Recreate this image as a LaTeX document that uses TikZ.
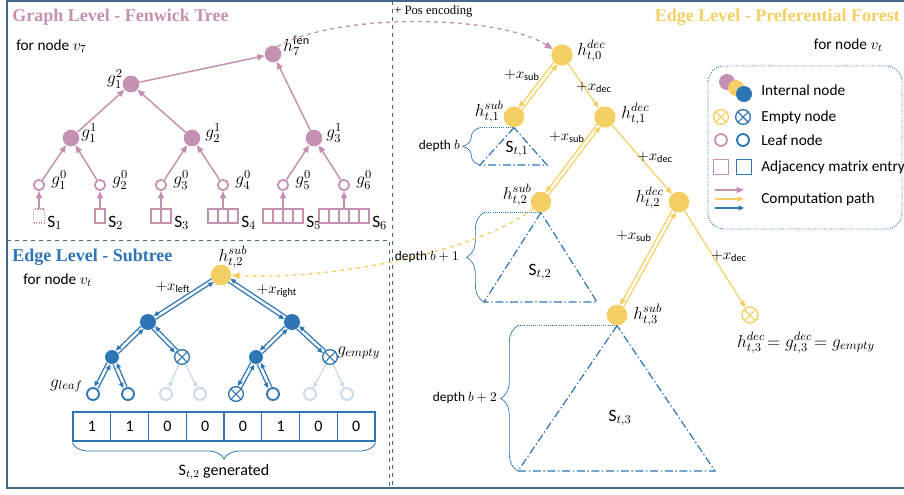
\RequirePackage{fix-cm}
\documentclass[tikz,border=0pt]{standalone}
\usepackage{fontspec}
\setmainfont{Carlito}
\newfontfamily\titlefont{Liberation Serif}
\usetikzlibrary{arrows.meta,calc,decorations.pathreplacing,positioning}

\definecolor{fenpink}{RGB}{196,145,178}
\definecolor{foryellow}{RGB}{244,208,100}
\definecolor{subblue}{RGB}{46,117,182}
\definecolor{fadeblue}{RGB}{200,216,238}
\definecolor{framegray}{RGB}{68,104,140}

% one arrow of a two-way pair, shifted beside the line between two nodes
\newcommand{\oneway}[5]{%
  \draw[#1,shorten <=#4,shorten >=#5] let \p1=($(#3)-(#2)$), \n1={atan2(\y1,\x1)} in
    ($(#2)+(\n1-90:1.5pt)$) -- ($(#3)+(\n1-90:1.5pt)$);}
\newcommand{\twoway}[5]{\oneway{#1}{#2}{#3}{#4}{#5}\oneway{#1}{#3}{#2}{#5}{#4}}

\tikzset{
  pint/.style={circle,fill=fenpink,minimum size=12.5pt,inner sep=0pt},
  pleaf/.style={circle,draw=fenpink,line width=1.3pt,minimum size=7.8pt,inner sep=0pt},
  pbox/.style={draw=fenpink,line width=0.9pt,minimum height=10.5pt,inner sep=0pt,outer sep=0pt},
  parr/.style={fenpink,line width=1.1pt,-{Triangle[length=5.5pt,width=4.5pt]}},
  yint/.style={circle,fill=foryellow,minimum size=15.5pt,inner sep=0pt},
  yarr/.style={foryellow,line width=0.9pt,-{Triangle[length=5pt,width=4pt]}},
  bint/.style={circle,fill=subblue,minimum size=#1,inner sep=0pt},
  bint/.default=11pt,
  bleaf/.style={circle,draw=#1,line width=1.4pt,minimum size=9pt,inner sep=0pt},
  bleaf/.default=subblue,
  xnode/.style={circle,draw=#1,line width=1pt,minimum size=11pt,inner sep=0pt,
    path picture={\draw[#1,line width=0.8pt]
      (path picture bounding box.north west) -- (path picture bounding box.south east)
      (path picture bounding box.north east) -- (path picture bounding box.south west);}},
  barr/.style={subblue,line width=0.9pt,-{Triangle[length=4pt,width=3.5pt]}},
  farr/.style={fadeblue,line width=0.9pt,-{Triangle[length=4pt,width=3.5pt]}},
  lab/.style={inner sep=0.75pt,font=\fontsize{13}{15}\selectfont},
  xlab/.style={inner sep=0.75pt,font=\fontsize{11}{13}\selectfont},
  txt/.style={inner sep=0.75pt,font=\fontsize{11.5}{14}\selectfont},
  dtxt/.style={inner sep=0.75pt,font=\fontsize{10}{12}\selectfont},
  ttl/.style={inner sep=0.75pt,font=\titlefont\bfseries\fontsize{13.5}{16}\selectfont},
  subtri/.style={subblue,line width=0.9pt,dash pattern=on 6pt off 2pt on 1pt off 2pt},
  depthbrace/.style={subblue,line width=0.5pt,decorate,decoration={brace,amplitude=13pt}},
  cell/.style={draw=subblue,line width=1pt,minimum width=28.3pt,minimum height=21.75pt,inner sep=0pt,font=\fontsize{12}{14}\selectfont}
}

\begin{document}
\begin{tikzpicture}[x=0.75pt,y=-0.75pt]
  \useasboundingbox (0,0) rectangle (904,494);

  % frame and panels
  \draw[framegray,line width=1.3pt] (904,1.2) -- (7,1.2) -- (7,488) -- (904,488);
  \draw[framegray,dashed,line width=0.6pt] (392,1) -- (392,488);
  \draw[framegray,dashed,line width=0.6pt] (7,240) -- (389,240) -- (389,488);

  % Text Node
  \node[ttl,anchor=west,text=fenpink] (ttlfen) at (11,17) {Graph Level - Fenwick Tree};
  \node[ttl,anchor=east,text=foryellow] (ttlfor) at (901,17) {Edge Level - Preferential Forest};
  \node[ttl,anchor=west,text=subblue] (ttlsub) at (11,257) {Edge Level - Subtree};
  \node[txt,anchor=west] (fn1) at (15,46) {for node $v_7$};
  \node[txt,anchor=east] (fn2) at (884,45) {for node $v_t$};
  \node[txt,anchor=west] (fn3) at (22,280) {for node $v_t$};
  \node[inner sep=0.75pt,anchor=west,font=\titlefont\fontsize{9.5}{11}\selectfont] (posenc) at (393,11) {+ Pos encoding};

  %% Fenwick tree
  \node[pint] (h7) at (273,54) {};
  \node[pint] (g12) at (131,84) {};
  \node[pint] (g11) at (71,138) {};
  \node[pint] (g21) at (192,138) {};
  \node[pint] (g31) at (314,138) {};
  \node[lab,anchor=west] (th7) at (282,46) {$h_7^{\mathrm{fen}}$};
  \node[lab,anchor=east] (tg12) at (124,79) {$g_1^2$};
  \node[lab,anchor=west] (tg11) at (80,133) {$g_1^1$};
  \node[lab,anchor=west] (tg21) at (204,133) {$g_2^1$};
  \node[lab,anchor=west] (tg31) at (325,133) {$g_3^1$};

  % adjacency boxes
  \node[pbox,densely dotted,minimum width=8pt] (b1) at (39,216) {};
  \foreach \i/\x/\c in {2/100/1,3/161/2,4/223/3,5/283/4,6/344/5}
    \node[pbox,minimum width={\c*7.5pt}] (b\i) at (\x,216) {};
  \foreach \i/\c in {3/2,4/3,5/4,6/5}
    \foreach \k in {2,...,\c}
      \draw[fenpink,line width=0.9pt] ([xshift={(\k-1)*7.5pt}]b\i.north west) -- ([xshift={(\k-1)*7.5pt}]b\i.south west);
  \foreach \i/\x/\c in {1/39/1,2/100/1,3/161/2,4/223/3,5/283/4,6/344/5}
    \node[lab,anchor=west] (ts\i) at ({\x+\c*5+2},223) {$\mathrm{S}_{\i}$};

  % leaves
  \foreach \i/\x in {1/39,2/100,3/161,4/223,5/283,6/344} {
    \node[pleaf] (g\i0) at (\x,185) {};
    \node[lab,anchor=west] (tg\i0) at ({\x+11},180) {$g_{\i}^{0}$};
    \draw[parr] (b\i) -- (g\i0);
  }
  \foreach \a/\b in {g10/g11,g20/g11,g30/g21,g40/g21,g50/g31,g60/g31,g11/g12,g21/g12,g12/h7,g31/h7}
    \draw[parr] (\a) -- (\b);

  %% Preferential forest
  \node[yint,minimum size=16pt] (hd0) at (562,55) {};
  \node[yint] (hs1) at (514,117) {};
  \node[yint,minimum size=16pt] (hd1) at (605,117) {};
  \node[yint] (hs2) at (541,202) {};
  \node[yint] (hd2) at (679,202) {};
  \node[yint] (hs3) at (617,315) {};
  \node[xnode=foryellow,minimum size=12pt] (he3) at (750,315) {};

  \node[lab,anchor=west] (thd0) at (576,51) {$h_{t,0}^{dec}$};
  \node[lab,anchor=east] (ths1) at (505,112) {$h_{t,1}^{sub}$};
  \node[lab,anchor=west] (thd1) at (620,114) {$h_{t,1}^{dec}$};
  \node[lab,anchor=east] (ths2) at (533,195) {$h_{t,2}^{sub}$};
  \node[lab,anchor=east] (thd2) at (665,198) {$h_{t,2}^{dec}$};
  \node[lab,anchor=west] (ths3) at (632,315) {$h_{t,3}^{sub}$};
  \node[lab] (the3) at (806,343) {$h_{t,3}^{dec}\!=g_{t,3}^{dec}\!=g_{empty}$};

  \twoway{yarr}{hd0}{hs1}{7.5pt}{7.5pt}
  \twoway{yarr}{hd1}{hs2}{7.5pt}{7.5pt}
  \twoway{yarr}{hd2}{hs3}{7.5pt}{7.5pt}
  \draw[yarr] (hd0) -- (hd1);
  \draw[yarr] (hd1) -- (hd2);
  \draw[yarr] (hd2) -- (he3);

  \node[xlab] (xs1) at (522,75) {$+x_{\mathrm{sub}}$};
  \node[xlab] (xd1) at (594,87) {$+x_{\mathrm{dec}}$};
  \node[xlab] (xs2) at (567,137) {$+x_{\mathrm{sub}}$};
  \node[xlab] (xd2) at (655,157) {$+x_{\mathrm{dec}}$};
  \node[xlab] (xs3) at (634,236) {$+x_{\mathrm{sub}}$};
  \node[xlab] (xd3) at (729,256) {$+x_{\mathrm{dec}}$};

  % subtrees hanging below the sub nodes
  \coordinate (bt1) at ($(hs1.south)+(-34,0)$);
  \coordinate (bb1) at (480,165);
  \coordinate (bt2) at ($(hs2.south)+(-57,0)$);
  \coordinate (bb2) at (484,302);
  \coordinate (bt3) at ($(hs3.south)+(-99,0)$);
  \coordinate (bb3) at (518,471);
  \draw[subtri] (hs1.south) -- (bb1) -- (547,165) -- cycle;
  \draw[subtri] (hs2.south) -- (bb2) -- (597,302) -- cycle;
  \draw[subtri] (hs3.south) -- (bb3) -- (715,471) -- cycle;
  \draw[subblue,densely dotted,line width=0.6pt] (bt1) -- (hs1.south);
  \draw[subblue,densely dotted,line width=0.6pt] (bt2) -- (hs2.south);
  \draw[subblue,densely dotted,line width=0.6pt] (bt3) -- (hs3.south);
  \draw[depthbrace] (bb1) -- (bt1);
  \draw[depthbrace] (bb2) -- (bt2);
  \draw[depthbrace] (bb3) -- (bt3);
  \node[lab] (st1) at (517,149) {$\mathrm{S}_{t,1}$};
  \node[lab] (st2) at (540,272) {$\mathrm{S}_{t,2}$};
  \node[lab] (st3) at (620,418) {$\mathrm{S}_{t,3}$};

  %% Subtree
  \node[yint] (sr) at (221,275) {};
  \node[bint=12pt] (l1) at (148,322) {};
  \node[bint=12pt] (r1) at (292,322) {};
  \node[bint=10.5pt] (ll) at (112,357) {};
  \node[xnode=subblue] (lr) at (182,357) {};
  \node[bint=10.5pt] (rl) at (256,357) {};
  \node[xnode=subblue] (rr) at (330,357) {};
  \node[bleaf] (lll) at (93,394) {};
  \node[bleaf] (llr) at (128,394) {};
  \node[bleaf=fadeblue] (lrl) at (166,394) {};
  \node[bleaf=fadeblue] (lrr) at (200,394) {};
  \node[xnode=subblue] (rll) at (236,394) {};
  \node[bleaf] (rlr) at (273,394) {};
  \node[bleaf=fadeblue] (rrl) at (310,394) {};
  \node[bleaf=fadeblue] (rrr) at (347,394) {};

  \twoway{barr}{sr}{l1}{7.5pt}{6pt}
  \twoway{barr}{sr}{r1}{7.5pt}{6pt}
  \twoway{barr}{l1}{ll}{6pt}{5.5pt}
  \twoway{barr}{l1}{lr}{6pt}{6pt}
  \twoway{barr}{r1}{rl}{6pt}{5.5pt}
  \twoway{barr}{r1}{rr}{6pt}{6pt}
  \twoway{barr}{ll}{lll}{5.5pt}{5.5pt}
  \twoway{barr}{ll}{llr}{5.5pt}{5.5pt}
  \twoway{barr}{rl}{rll}{5.5pt}{6pt}
  \twoway{barr}{rl}{rlr}{5.5pt}{5.5pt}
  \foreach \a/\b in {lr/lrl,lr/lrr,rr/rrl,rr/rrr}
    \draw[farr] (\a) -- (\b);

  \node[lab] (tsr) at (233,257) {$h_{t,2}^{sub}$};
  \node[xlab] (txl) at (173,287) {$+x_{\mathrm{left}}$};
  \node[xlab] (txr) at (277,291) {$+x_{\mathrm{right}}$};
  \node[lab,anchor=east] (tgl) at (84,386) {$g_{leaf}$};
  \node[lab,anchor=west] (tge) at (336,353) {$g_{empty}$};

  % generated row of the adjacency matrix
  \foreach \v [count=\i] in {1,1,0,0,0,1,0,0}
    \node[cell] (m\i) at ({73+37.75*(\i-0.5)},426.5) {\v};
  \draw[subblue,line width=0.6pt,decorate,decoration={brace,amplitude=12pt}] ([yshift=-1pt]m8.south east) -- ([yshift=-1pt]m1.south west);
  \node[inner sep=0.75pt,font=\fontsize{12}{14}\selectfont] (tgen) at (224,472) {$\mathrm{S}_{t,2}$ generated};

  %% hand-over curves
  \draw[fenpink,dashed,line width=1pt,-{Triangle[length=6pt,width=5pt]}] (h7.60) .. controls (340,12) and (500,15) .. (hd0);
  \draw[foryellow,dashed,line width=1pt,-{Triangle[length=6pt,width=5pt]}] (hs2.220) .. controls (480,250) and (340,280) .. (sr);
  \node[dtxt,anchor=east] (dl1) at (461,146) {depth $b$};
  \node[dtxt,anchor=east] (dl2) at (460,257) {depth $b+1$};
  \node[dtxt,anchor=east] (dl3) at (498,398) {depth $b+2$};

  %% Legend
  \draw[subblue,densely dotted,line width=0.7pt,rounded corners=12pt] (708,66) rectangle (902,229);
  \node[pint,minimum size=12pt] (lgp) at (727,82) {};
  \node[yint,minimum size=12pt] (lgy) at (736,88) {};
  \node[bint=12pt] (lgb) at (744,94) {};
  \node[xnode=foryellow,minimum size=11pt] (lgey) at (721,117) {};
  \node[xnode=subblue,minimum size=11pt] (lgeb) at (743,117) {};
  \node[pleaf,minimum size=9pt] (lglp) at (721,140) {};
  \node[bleaf] (lglb) at (743,140) {};
  \node[pbox,minimum width=11pt,minimum height=11pt] (lgsp) at (721,167) {};
  \node[draw=subblue,line width=0.9pt,minimum size=11pt,inner sep=0pt] (lgsb) at (744,167) {};
  \draw[parr,line width=0.9pt] (715,190) -- (744,190);
  \draw[yarr] (715,199) -- (744,199);
  \draw[barr] (715,208) -- (744,208);
  \node[txt,anchor=west] (lt1) at (760,90) {Internal node};
  \node[txt,anchor=west] (lt2) at (760,117) {Empty node};
  \node[txt,anchor=west] (lt3) at (760,140) {Leaf node};
  \node[txt,anchor=west] (lt4) at (760,167) {Adjacency matrix entry};
  \node[txt,anchor=west] (lt5) at (760,199) {Computation path};
\end{tikzpicture}
\end{document}
